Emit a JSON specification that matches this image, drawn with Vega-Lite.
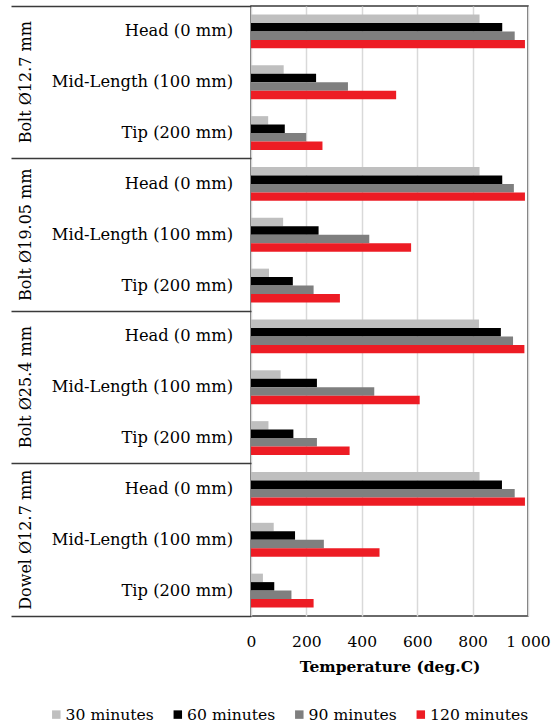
{
  "$schema": "https://vega.github.io/schema/vega-lite/v6.json",
  "width": 277,
  "height": 610,
  "autosize": {"type": "none"},
  "padding": {"left": 251, "top": 6, "right": 26, "bottom": 109},
  "background": "white",
  "config": {
    "font": "DejaVu Serif",
    "view": {"stroke": "#3a3a3a", "strokeWidth": 1.5},
    "axis": {"labelFont": "DejaVu Serif", "titleFont": "DejaVu Serif", "labelColor": "#000000", "titleColor": "#000000"},
    "legend": {"labelFont": "DejaVu Serif"}
  },
  "data": {
    "values": [
      {"member": "Bolt Ø12.7 mm", "location": "Head (0 mm)", "time": "30 minutes", "temp": 825},
      {"member": "Bolt Ø12.7 mm", "location": "Head (0 mm)", "time": "60 minutes", "temp": 907},
      {"member": "Bolt Ø12.7 mm", "location": "Head (0 mm)", "time": "90 minutes", "temp": 952},
      {"member": "Bolt Ø12.7 mm", "location": "Head (0 mm)", "time": "120 minutes", "temp": 989},
      {"member": "Bolt Ø12.7 mm", "location": "Mid-Length (100 mm)", "time": "30 minutes", "temp": 118},
      {"member": "Bolt Ø12.7 mm", "location": "Mid-Length (100 mm)", "time": "60 minutes", "temp": 235},
      {"member": "Bolt Ø12.7 mm", "location": "Mid-Length (100 mm)", "time": "90 minutes", "temp": 350},
      {"member": "Bolt Ø12.7 mm", "location": "Mid-Length (100 mm)", "time": "120 minutes", "temp": 524},
      {"member": "Bolt Ø12.7 mm", "location": "Tip (200 mm)", "time": "30 minutes", "temp": 62},
      {"member": "Bolt Ø12.7 mm", "location": "Tip (200 mm)", "time": "60 minutes", "temp": 122},
      {"member": "Bolt Ø12.7 mm", "location": "Tip (200 mm)", "time": "90 minutes", "temp": 199},
      {"member": "Bolt Ø12.7 mm", "location": "Tip (200 mm)", "time": "120 minutes", "temp": 258},
      {"member": "Bolt Ø19.05 mm", "location": "Head (0 mm)", "time": "30 minutes", "temp": 825},
      {"member": "Bolt Ø19.05 mm", "location": "Head (0 mm)", "time": "60 minutes", "temp": 907},
      {"member": "Bolt Ø19.05 mm", "location": "Head (0 mm)", "time": "90 minutes", "temp": 949},
      {"member": "Bolt Ø19.05 mm", "location": "Head (0 mm)", "time": "120 minutes", "temp": 989},
      {"member": "Bolt Ø19.05 mm", "location": "Mid-Length (100 mm)", "time": "30 minutes", "temp": 116},
      {"member": "Bolt Ø19.05 mm", "location": "Mid-Length (100 mm)", "time": "60 minutes", "temp": 244},
      {"member": "Bolt Ø19.05 mm", "location": "Mid-Length (100 mm)", "time": "90 minutes", "temp": 427},
      {"member": "Bolt Ø19.05 mm", "location": "Mid-Length (100 mm)", "time": "120 minutes", "temp": 578},
      {"member": "Bolt Ø19.05 mm", "location": "Tip (200 mm)", "time": "30 minutes", "temp": 65},
      {"member": "Bolt Ø19.05 mm", "location": "Tip (200 mm)", "time": "60 minutes", "temp": 151},
      {"member": "Bolt Ø19.05 mm", "location": "Tip (200 mm)", "time": "90 minutes", "temp": 226},
      {"member": "Bolt Ø19.05 mm", "location": "Tip (200 mm)", "time": "120 minutes", "temp": 321},
      {"member": "Bolt Ø25.4 mm", "location": "Head (0 mm)", "time": "30 minutes", "temp": 823},
      {"member": "Bolt Ø25.4 mm", "location": "Head (0 mm)", "time": "60 minutes", "temp": 902},
      {"member": "Bolt Ø25.4 mm", "location": "Head (0 mm)", "time": "90 minutes", "temp": 946},
      {"member": "Bolt Ø25.4 mm", "location": "Head (0 mm)", "time": "120 minutes", "temp": 987},
      {"member": "Bolt Ø25.4 mm", "location": "Mid-Length (100 mm)", "time": "30 minutes", "temp": 107},
      {"member": "Bolt Ø25.4 mm", "location": "Mid-Length (100 mm)", "time": "60 minutes", "temp": 238},
      {"member": "Bolt Ø25.4 mm", "location": "Mid-Length (100 mm)", "time": "90 minutes", "temp": 445},
      {"member": "Bolt Ø25.4 mm", "location": "Mid-Length (100 mm)", "time": "120 minutes", "temp": 609},
      {"member": "Bolt Ø25.4 mm", "location": "Tip (200 mm)", "time": "30 minutes", "temp": 63},
      {"member": "Bolt Ø25.4 mm", "location": "Tip (200 mm)", "time": "60 minutes", "temp": 153},
      {"member": "Bolt Ø25.4 mm", "location": "Tip (200 mm)", "time": "90 minutes", "temp": 238},
      {"member": "Bolt Ø25.4 mm", "location": "Tip (200 mm)", "time": "120 minutes", "temp": 356},
      {"member": "Dowel Ø12.7 mm", "location": "Head (0 mm)", "time": "30 minutes", "temp": 825},
      {"member": "Dowel Ø12.7 mm", "location": "Head (0 mm)", "time": "60 minutes", "temp": 906},
      {"member": "Dowel Ø12.7 mm", "location": "Head (0 mm)", "time": "90 minutes", "temp": 952},
      {"member": "Dowel Ø12.7 mm", "location": "Head (0 mm)", "time": "120 minutes", "temp": 989},
      {"member": "Dowel Ø12.7 mm", "location": "Mid-Length (100 mm)", "time": "30 minutes", "temp": 82},
      {"member": "Dowel Ø12.7 mm", "location": "Mid-Length (100 mm)", "time": "60 minutes", "temp": 159},
      {"member": "Dowel Ø12.7 mm", "location": "Mid-Length (100 mm)", "time": "90 minutes", "temp": 263},
      {"member": "Dowel Ø12.7 mm", "location": "Mid-Length (100 mm)", "time": "120 minutes", "temp": 464},
      {"member": "Dowel Ø12.7 mm", "location": "Tip (200 mm)", "time": "30 minutes", "temp": 43},
      {"member": "Dowel Ø12.7 mm", "location": "Tip (200 mm)", "time": "60 minutes", "temp": 84},
      {"member": "Dowel Ø12.7 mm", "location": "Tip (200 mm)", "time": "90 minutes", "temp": 146},
      {"member": "Dowel Ø12.7 mm", "location": "Tip (200 mm)", "time": "120 minutes", "temp": 226}
    ]
  },
  "transform": [
    {"calculate": "datum.member + '|' + datum.location", "as": "row"}
  ],
  "layer": [
    {
      "mark": {"type": "bar"},
      "encoding": {
        "y": {
          "field": "row", "type": "nominal", "sort": null,
          "scale": {"paddingInner": 0, "paddingOuter": 0},
          "axis": {
            "orient": "left", "title": null, "domain": false, "ticks": false, "grid": false,
            "bandPosition": 0.5,
            "labelExpr": "split(datum.value, '|')[1]",
            "labelFontSize": 16.3, "labelPadding": 18.5, "labelLimit": 400,
            "labelOverlap": false, "labelAlign": "right", "labelBaseline": "middle"
          }
        },
        "yOffset": {
          "field": "time", "type": "nominal",
          "sort": ["30 minutes", "60 minutes", "90 minutes", "120 minutes"],
          "scale": {"paddingInner": 0, "paddingOuter": 1}
        },
        "x": {
          "field": "temp", "type": "quantitative",
          "scale": {"domain": [0, 1000], "nice": false},
          "axis": {
            "values": [0, 200, 400, 600, 800, 1000],
            "title": "Temperature (deg.C)",
            "labelExpr": "replace(format(datum.value, ','), ',', ' ')",
            "ticks": false, "domain": false,
            "grid": true, "gridColor": "#d9d9d9", "gridWidth": 1.5,
            "labelFontSize": 15.5, "labelPadding": 18, "labelFlush": false,
            "titleFontSize": 15.5, "titleFontWeight": "bold",
            "titleY": 55, "titleBaseline": "alphabetic"
          }
        },
        "color": {
          "field": "time", "type": "nominal",
          "scale": {
            "domain": ["30 minutes", "60 minutes", "90 minutes", "120 minutes"],
            "range": ["#bfbfbf", "#000000", "#7f7f7f", "#ed1c24"]
          },
          "legend": {
            "orient": "none", "legendX": -202.5, "legendY": 700.5,
            "direction": "horizontal", "columns": 4, "title": null,
            "symbolType": "square", "symbolSize": 72, "symbolStrokeWidth": 0,
            "labelFontSize": 15.6, "labelColor": "#000000",
            "labelOffset": 1.5, "columnPadding": 5.5, "gridAlign": "all", "padding": 0,
            "labelLimit": 300
          }
        }
      }
    },
    {
      "mark": {"type": "bar", "opacity": 0},
      "encoding": {
        "y": {
          "field": "row", "type": "nominal", "sort": null,
          "axis": {
            "orient": "left", "title": null, "domain": false, "labels": false, "grid": false,
            "ticks": true, "tickSize": 240, "tickWidth": 1.5, "tickColor": "#3a3a3a",
            "tickOpacity": {"condition": {"test": "indexof(datum.value, 'Tip') >= 0", "value": 1}, "value": 0},
            "bandPosition": 1
          }
        }
      }
    },
    {
      "mark": {"type": "bar", "opacity": 0},
      "encoding": {
        "y": {
          "field": "row", "type": "nominal", "sort": null,
          "axis": {
            "orient": "left", "title": null, "domain": false, "labels": false, "grid": false,
            "ticks": true, "tickSize": 240, "tickWidth": 1.5, "tickColor": "#3a3a3a",
            "tickOpacity": {"condition": {"test": "datum.value === 'Bolt Ø12.7 mm|Head (0 mm)'", "value": 1}, "value": 0},
            "bandPosition": 0
          }
        }
      }
    },
    {
      "mark": {"type": "bar", "opacity": 0},
      "encoding": {
        "y": {
          "field": "row", "type": "nominal", "sort": null,
          "axis": {
            "orient": "left", "title": null, "domain": false, "ticks": false, "grid": false,
            "bandPosition": 0.5,
            "labelExpr": "indexof(datum.value, 'Mid-Length') >= 0 ? split(datum.value, '|')[0] : ''",
            "labelFontSize": 16, "labelPadding": 226, "labelLimit": 400,
            "labelOverlap": false, "labelAngle": 270, "labelAlign": "center", "labelBaseline": "middle"
          }
        }
      }
    }
  ],
  "resolve": {"axis": {"y": "independent"}}
}
